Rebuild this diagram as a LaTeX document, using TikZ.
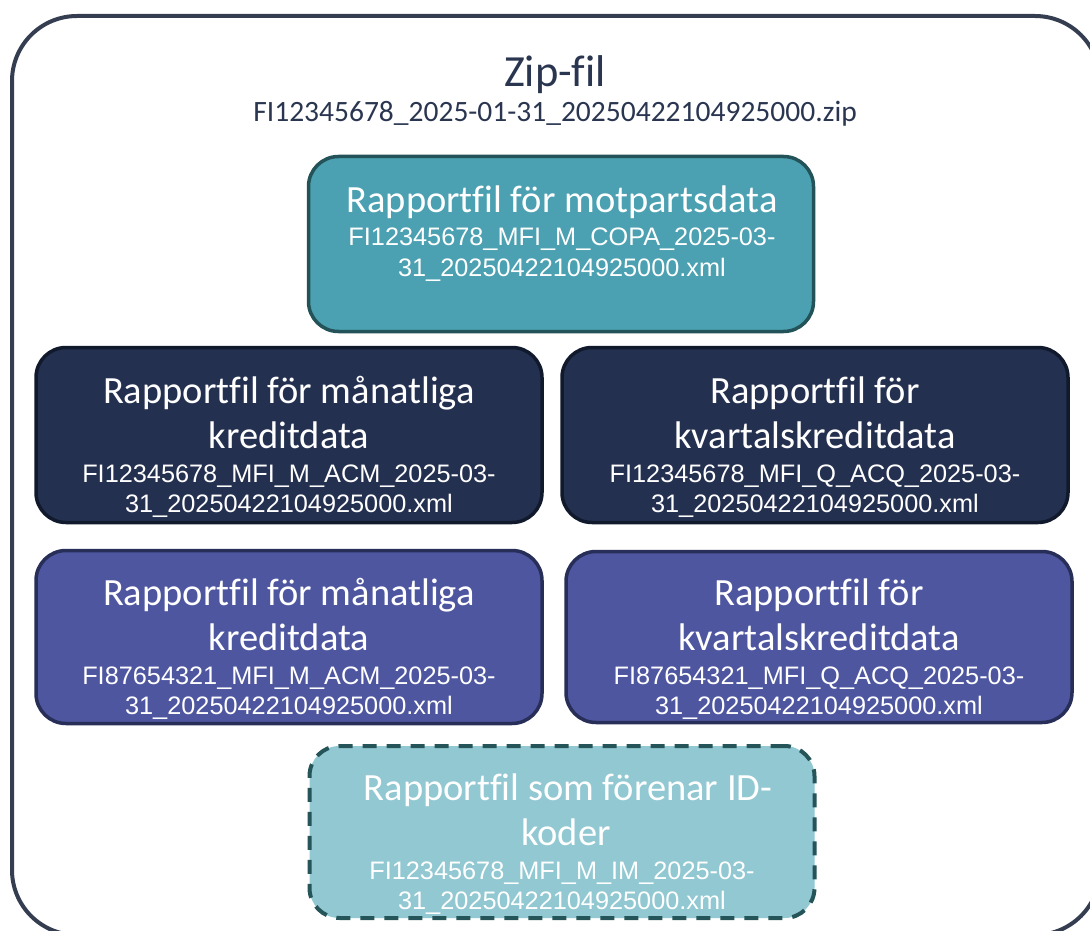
\documentclass[tikz,border=0pt]{standalone}
\usepackage{fontspec}
\setmainfont{Carlito}[Ligatures=NoCommon]
\newfontfamily\arialf{Liberation Sans}
\definecolor{outerc}{HTML}{343E50}
\definecolor{ziptxt}{HTML}{2A3550}
\definecolor{tealfill}{HTML}{4BA1B1}
\definecolor{tealline}{HTML}{235358}
\definecolor{navyfill}{HTML}{243050}
\definecolor{navyline}{HTML}{111A2C}
\definecolor{indfill}{HTML}{4E56A0}
\definecolor{indline}{HTML}{272E58}
\definecolor{ltfill}{HTML}{91C8D2}
\definecolor{ltline}{HTML}{255459}
\tikzset{
  filebox/.style={rectangle, rounded corners=30pt, line width=3.5pt, inner sep=0pt},
  titletxt/.style={anchor=base, text=white, font=\fontsize{38.5}{45}\selectfont, inner sep=0pt},
  fntxt/.style={anchor=base, text=white, font=\arialf\fontsize{25.3}{30}\selectfont, inner sep=0pt},
}
\begin{document}
\begin{tikzpicture}[x=1pt,y=-1pt]
\useasboundingbox (0,0) rectangle (1090,931);
\clip (0,0) rectangle (1090,931);
% outer zip container
\node[draw=outerc, line width=4pt, rectangle, rounded corners=65pt, minimum width=1088pt, minimum height=919pt, inner sep=0pt] (zip) at (556,475.5) {};
\node[anchor=base, text=ziptxt, font=\fontsize{44.5}{50}\selectfont, inner sep=0pt] (ziptitle) at (555,87) {Zip-fil};
\node[anchor=base, text=ziptxt, font=\fontsize{29.5}{32}\selectfont, inner sep=0pt] (zipname) at (555,122) {FI12345678\_2025-01-31\_20250422104925000.zip};
% top box
\node[filebox, fill=tealfill, draw=tealline, minimum width=505pt, minimum height=175pt] (copa) at (561,244) {};
\node[titletxt] (copat) at (562,212) {Rapportfil för motpartsdata};
\node[fntxt] (copaf1) at (562,245) {FI12345678\_MFI\_M\_COPA\_2025-03-};
\node[fntxt] (copaf2) at (562,276) {31\_20250422104925000.xml};
% row 2 left
\node[filebox, fill=navyfill, draw=navyline, minimum width=506pt, minimum height=175pt] (acm1) at (289,435) {};
\node[titletxt] (acm1t1) at (289,403) {Rapportfil för månatliga};
\node[titletxt] (acm1t2) at (289,448) {kreditdata};
\node[fntxt] (acm1f1) at (289,482) {FI12345678\_MFI\_M\_ACM\_2025-03-};
\node[fntxt] (acm1f2) at (289,512) {31\_20250422104925000.xml};
% row 2 right
\node[filebox, fill=navyfill, draw=navyline, minimum width=506pt, minimum height=175pt] (acq1) at (815,435) {};
\node[titletxt] (acq1t1) at (815,403) {Rapportfil för};
\node[titletxt] (acq1t2) at (815,448) {kvartalskreditdata};
\node[fntxt] (acq1f1) at (815,482) {FI12345678\_MFI\_Q\_ACQ\_2025-03-};
\node[fntxt] (acq1f2) at (815,512) {31\_20250422104925000.xml};
% row 3 left
\node[filebox, fill=indfill, draw=indline, minimum width=506pt, minimum height=173pt] (acm2) at (289,637) {};
\node[titletxt] (acm2t1) at (289,605) {Rapportfil för månatliga};
\node[titletxt] (acm2t2) at (289,650) {kreditdata};
\node[fntxt] (acm2f1) at (289,684) {FI87654321\_MFI\_M\_ACM\_2025-03-};
\node[fntxt] (acm2f2) at (289,714) {31\_20250422104925000.xml};
% row 3 right
\node[filebox, fill=indfill, draw=indline, minimum width=506pt, minimum height=171pt] (acq2) at (819,637) {};
\node[titletxt] (acq2t1) at (819,605) {Rapportfil för};
\node[titletxt] (acq2t2) at (819,650) {kvartalskreditdata};
\node[fntxt] (acq2f1) at (819,684) {FI87654321\_MFI\_Q\_ACQ\_2025-03-};
\node[fntxt] (acq2f2) at (819,714) {31\_20250422104925000.xml};
% bottom dashed
\node[filebox, fill=ltfill, draw=ltline, line width=4pt, dash pattern=on 14pt off 10pt, minimum width=505pt, minimum height=172pt] (im) at (562,832) {};
\node[titletxt] (imt1) at (568,800) {Rapportfil som förenar ID-};
\node[titletxt] (imt2) at (566,845) {koder};
\node[fntxt] (imf1) at (562,879) {FI12345678\_MFI\_M\_IM\_2025-03-};
\node[fntxt] (imf2) at (562,909) {31\_20250422104925000.xml};
\end{tikzpicture}
\end{document}
